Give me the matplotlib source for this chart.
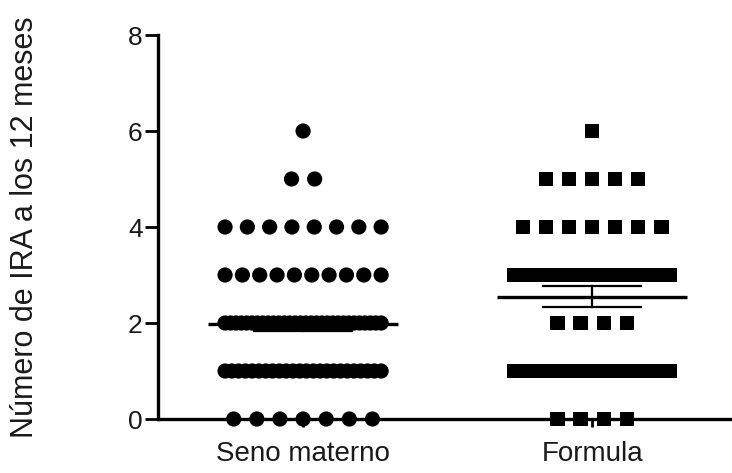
import numpy as np
import matplotlib
matplotlib.use("Agg")
import matplotlib.pyplot as plt

plt.rcParams['font.family'] = ['Liberation Sans', 'DejaVu Sans']

# ---- data ----
categories = ["Seno materno", "Formula"]
values = [0, 1, 2, 3, 4, 5, 6]            # number of IRA episodes
counts_seno = [7, 24, 30, 10, 8, 2, 1]     # children per value, breast-fed
counts_formula = [4, 13, 4, 15, 7, 5, 1]   # children per value, formula
markers = ["o", "s"]
y_ticks = [0, 2, 4, 6, 8]
y_label = "Número de IRA a los 12 meses"


def row_positions(n, center, step=0.08, half_max=0.27):
    if n == 1:
        return np.array([center])
    half = min((n - 1) / 2 * step, half_max)
    return center + np.linspace(-half, half, n)


fig = plt.figure(figsize=(7.32, 4.73), dpi=100)
ax = fig.add_axes([158 / 732, (473 - 419) / 473, (732 - 158) / 732, (419 - 35) / 473])

groups = [counts_seno, counts_formula]
for gi, counts in enumerate(groups):
    center = gi + 1
    xs, ys = [], []
    for v, c in zip(values, counts):
        xs.extend(row_positions(c, center))
        ys.extend([v] * c)
    ax.scatter(xs, ys, marker=markers[gi], s=120 if gi == 0 else 105,
               color="black", edgecolors="none", clip_on=False, zorder=3)
    data = np.repeat(values, counts)
    mean = data.mean()
    sem = data.std(ddof=1) / np.sqrt(len(data))
    ax.plot([center - 0.33, center + 0.33], [mean, mean], color="black", lw=2.4,
            zorder=4, solid_capstyle="butt")
    ax.plot([center - 0.17, center + 0.17], [mean + sem] * 2, color="black", lw=1.6, zorder=4)
    ax.plot([center - 0.17, center + 0.17], [mean - sem] * 2, color="black", lw=1.6, zorder=4)
    ax.plot([center, center], [mean - sem, mean + sem], color="black", lw=1.6, zorder=4)

ax.set_xlim(0.498, 2.484)
ax.set_ylim(0, 8)
ax.set_yticks(y_ticks)
ax.set_xticks([1, 2])
ax.set_xticklabels(categories, fontsize=20, color="#1a1a1a")
ax.set_yticklabels([str(t) for t in y_ticks], fontsize=19, color="#1a1a1a")
ax.tick_params(axis="y", length=9.5, width=2, pad=1.5, direction="out")
ax.tick_params(axis="x", length=6, width=2, pad=10, direction="out")

for s in ["top", "right"]:
    ax.spines[s].set_visible(False)
ax.spines["left"].set_linewidth(2.4)
ax.spines["bottom"].set_linewidth(2.4)
ax.spines["left"].set_bounds(0, 8)

fig.text(25 / 732, (473 - 227) / 473, y_label, rotation=90, fontsize=22,
         ha="center", va="center", color="#1a1a1a")

fig.savefig("out.png", dpi=100)
